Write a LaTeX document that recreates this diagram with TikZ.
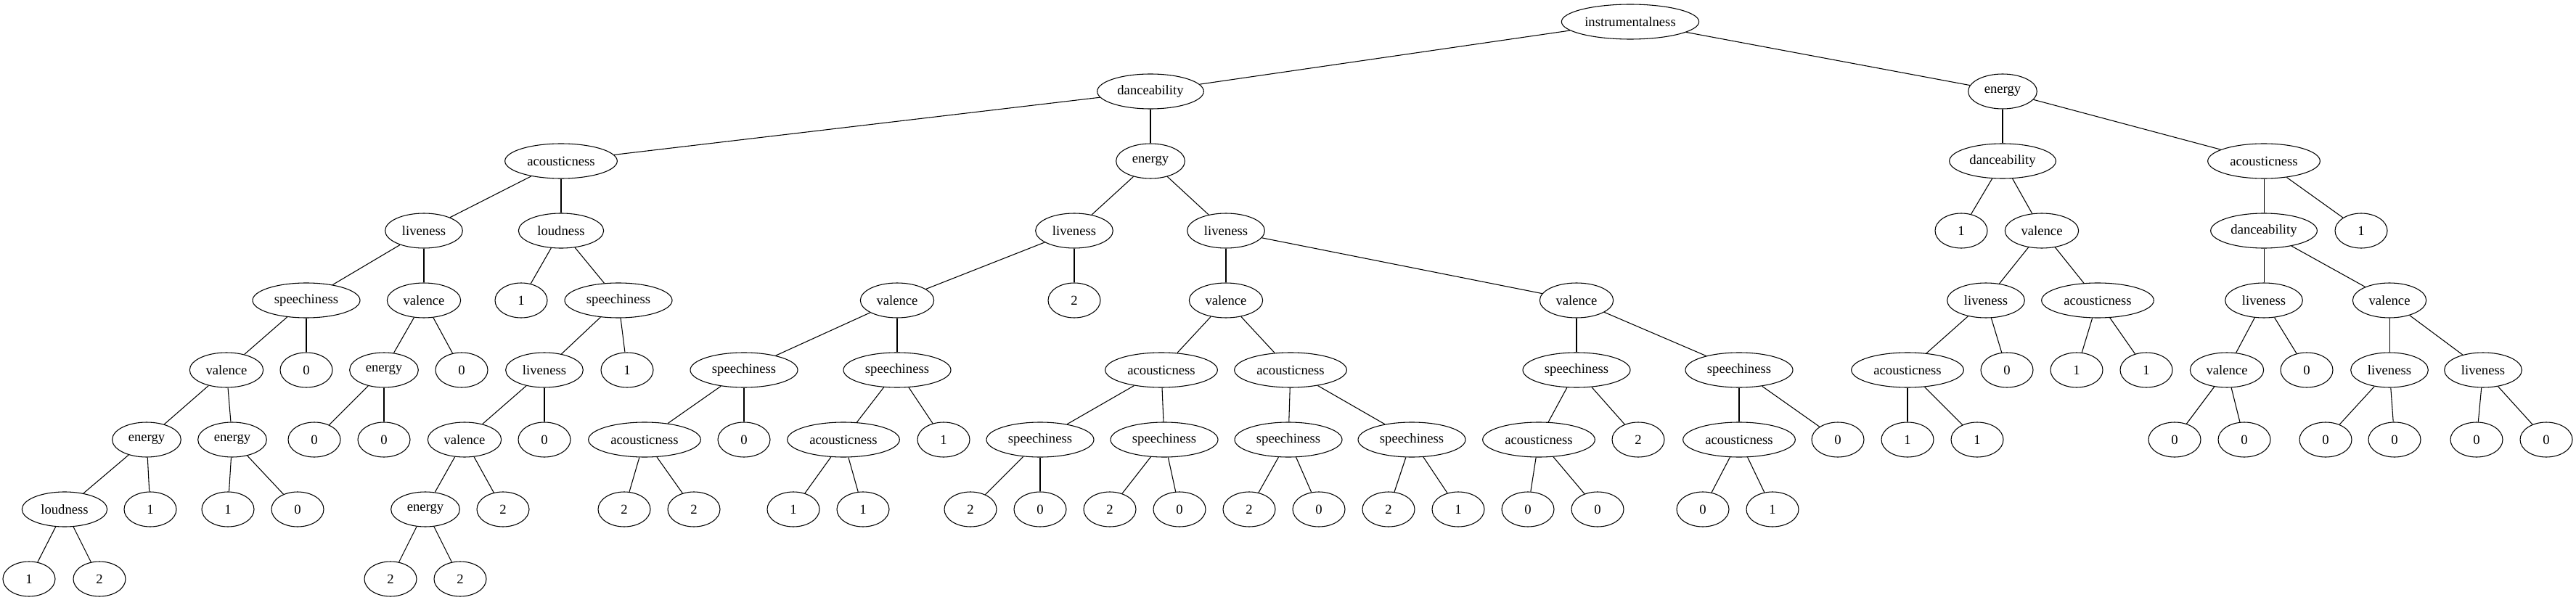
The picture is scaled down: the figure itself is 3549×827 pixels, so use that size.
\documentclass[tikz,border=0pt]{standalone}
\usepackage{fontspec}
\setmainfont{Liberation Serif}
\usetikzlibrary{shapes.geometric}
\tikzset{
  nd/.style={draw, ellipse, minimum height=36pt, inner sep=0pt, line width=0.8pt, font=\fontsize{14}{16}\selectfont},
  leaf/.style={nd, minimum width=54pt},
  instr/.style={nd, minimum width=142pt},
  acou/.style={nd, minimum width=116pt},
  spee/.style={nd, minimum width=111pt},
  dance/.style={nd, minimum width=110pt},
  vale/.style={nd, minimum width=76pt},
  ener/.style={nd, minimum width=71pt},
  loud/.style={nd, minimum width=88pt},
  live/.style={nd, minimum width=80pt},
  edge/.style={line width=0.8pt}
}
\begin{document}
\begin{tikzpicture}[x=0.75pt,y=-0.75pt]
\useasboundingbox (0,0) rectangle (3549,827);
\node[instr] (n1) at (2246,30) {instrumentalness};
\node[dance] (n2) at (1585,126) {danceability};
\node[acou] (n3) at (773,222) {acousticness};
\node[live] (n4) at (584,318) {liveness};
\node[spee] (n5) at (422,414) {speechiness};
\node[vale] (n6) at (312,510) {valence};
\node[ener] (n7) at (202,606) {energy};
\node[loud] (n8) at (89,702) {loudness};
\node[leaf] (n9) at (40,798) {1};
\node[leaf] (n10) at (137,798) {2};
\node[leaf] (n11) at (207,702) {1};
\node[ener] (n12) at (320,606) {energy};
\node[leaf] (n13) at (314,702) {1};
\node[leaf] (n14) at (410,702) {0};
\node[leaf] (n15) at (422,510) {0};
\node[vale] (n16) at (584,414) {valence};
\node[ener] (n17) at (529,510) {energy};
\node[leaf] (n18) at (433,606) {0};
\node[leaf] (n19) at (529,606) {0};
\node[leaf] (n20) at (636,510) {0};
\node[loud] (n21) at (773,318) {loudness};
\node[leaf] (n22) at (718,414) {1};
\node[spee] (n23) at (852,414) {speechiness};
\node[live] (n24) at (750,510) {liveness};
\node[vale] (n25) at (640,606) {valence};
\node[ener] (n26) at (586,702) {energy};
\node[leaf] (n27) at (538,798) {2};
\node[leaf] (n28) at (634,798) {2};
\node[leaf] (n29) at (693,702) {2};
\node[leaf] (n30) at (750,606) {0};
\node[leaf] (n31) at (864,510) {1};
\node[ener] (n32) at (1585,222) {energy};
\node[live] (n33) at (1480,318) {liveness};
\node[vale] (n34) at (1236,414) {valence};
\node[spee] (n35) at (1025,510) {speechiness};
\node[acou] (n36) at (888,606) {acousticness};
\node[leaf] (n37) at (860,702) {2};
\node[leaf] (n38) at (956,702) {2};
\node[leaf] (n39) at (1025,606) {0};
\node[spee] (n40) at (1236,510) {speechiness};
\node[acou] (n41) at (1162,606) {acousticness};
\node[leaf] (n42) at (1093,702) {1};
\node[leaf] (n43) at (1189,702) {1};
\node[leaf] (n44) at (1300,606) {1};
\node[leaf] (n45) at (1480,414) {2};
\node[live] (n46) at (1689,318) {liveness};
\node[vale] (n47) at (1689,414) {valence};
\node[acou] (n48) at (1600,510) {acousticness};
\node[spee] (n49) at (1433,606) {speechiness};
\node[leaf] (n50) at (1337,702) {2};
\node[leaf] (n51) at (1433,702) {0};
\node[spee] (n52) at (1604,606) {speechiness};
\node[leaf] (n53) at (1529,702) {2};
\node[leaf] (n54) at (1625,702) {0};
\node[acou] (n55) at (1778,510) {acousticness};
\node[spee] (n56) at (1775,606) {speechiness};
\node[leaf] (n57) at (1721,702) {2};
\node[leaf] (n58) at (1817,702) {0};
\node[spee] (n59) at (1945,606) {speechiness};
\node[leaf] (n60) at (1913,702) {2};
\node[leaf] (n61) at (2009,702) {1};
\node[vale] (n62) at (2172,414) {valence};
\node[spee] (n63) at (2172,510) {speechiness};
\node[acou] (n64) at (2120,606) {acousticness};
\node[leaf] (n65) at (2105,702) {0};
\node[leaf] (n66) at (2201,702) {0};
\node[leaf] (n67) at (2257,606) {2};
\node[spee] (n68) at (2396,510) {speechiness};
\node[acou] (n69) at (2396,606) {acousticness};
\node[leaf] (n70) at (2346,702) {0};
\node[leaf] (n71) at (2442,702) {1};
\node[leaf] (n72) at (2532,606) {0};
\node[ener] (n73) at (2759,126) {energy};
\node[dance] (n74) at (2759,222) {danceability};
\node[leaf] (n75) at (2702,318) {1};
\node[vale] (n76) at (2813,318) {valence};
\node[live] (n77) at (2736,414) {liveness};
\node[acou] (n78) at (2628,510) {acousticness};
\node[leaf] (n79) at (2628,606) {1};
\node[leaf] (n80) at (2724,606) {1};
\node[leaf] (n81) at (2765,510) {0};
\node[acou] (n82) at (2890,414) {acousticness};
\node[leaf] (n83) at (2861,510) {1};
\node[leaf] (n84) at (2957,510) {1};
\node[acou] (n85) at (3119,222) {acousticness};
\node[dance] (n86) at (3119,318) {danceability};
\node[live] (n87) at (3119,414) {liveness};
\node[vale] (n88) at (3068,510) {valence};
\node[leaf] (n89) at (2996,606) {0};
\node[leaf] (n90) at (3092,606) {0};
\node[leaf] (n91) at (3178,510) {0};
\node[vale] (n92) at (3292,414) {valence};
\node[live] (n93) at (3292,510) {liveness};
\node[leaf] (n94) at (3204,606) {0};
\node[leaf] (n95) at (3299,606) {0};
\node[live] (n96) at (3421,510) {liveness};
\node[leaf] (n97) at (3412,606) {0};
\node[leaf] (n98) at (3508,606) {0};
\node[leaf] (n99) at (3253,318) {1};
\foreach \a/\b in {n1/n2,n1/n73,n2/n3,n2/n32,n3/n4,n3/n21,n4/n5,n4/n16,n5/n6,n5/n15,
  n6/n7,n6/n12,n7/n8,n7/n11,n8/n9,n8/n10,n12/n13,n12/n14,n16/n17,n16/n20,n17/n18,n17/n19,
  n21/n22,n21/n23,n23/n24,n23/n31,n24/n25,n24/n30,n25/n26,n25/n29,n26/n27,n26/n28,
  n32/n33,n32/n46,n33/n34,n33/n45,n34/n35,n34/n40,n35/n36,n35/n39,n36/n37,n36/n38,
  n40/n41,n40/n44,n41/n42,n41/n43,n46/n47,n46/n62,n47/n48,n47/n55,n48/n49,n48/n52,
  n49/n50,n49/n51,n52/n53,n52/n54,n55/n56,n55/n59,n56/n57,n56/n58,n59/n60,n59/n61,
  n62/n63,n62/n68,n63/n64,n63/n67,n64/n65,n64/n66,n68/n69,n68/n72,n69/n70,n69/n71,
  n73/n74,n73/n85,n74/n75,n74/n76,n76/n77,n76/n82,n77/n78,n77/n81,n78/n79,n78/n80,
  n82/n83,n82/n84,n85/n86,n85/n99,n86/n87,n86/n92,n87/n88,n87/n91,n88/n89,n88/n90,
  n92/n93,n92/n96,n93/n94,n93/n95,n96/n97,n96/n98}
  \draw[edge] (\a) -- (\b);
\end{tikzpicture}
\end{document}
